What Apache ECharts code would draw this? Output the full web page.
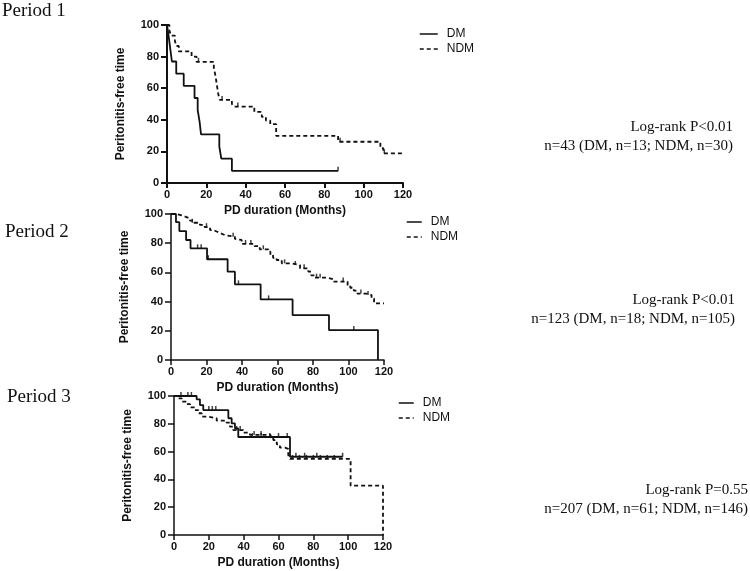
<!DOCTYPE html>
<html><head><meta charset="utf-8">
<script src="https://cdn.jsdelivr.net/npm/echarts@6/dist/echarts.min.js"></script>
<style>html,body{margin:0;padding:0;background:#fff}#c{width:750px;height:571px}</style>
</head><body><div id="c"></div>
<script>
// ---- data (months, % peritonitis-free) ----
const xTicks = [0, 20, 40, 60, 80, 100, 120];
const yTicks = [0, 20, 40, 60, 80, 100];
const groups = ['DM', 'NDM'];

const p1DM = [[0,100],[0.9,92.3],[1.7,84.6],[2.5,76.9],[4.7,69.2],[8.5,61.5],[14,53.8],[15.6,46.2],[16.6,38.5],[17.3,30.8],[26.6,23.1],[27.6,15.4],[33,7.7],[87,7.7]];
const p1NDM = [[0,100],[1.2,96.7],[2,93.3],[4,90],[4.7,86.7],[6,83.3],[12.5,80],[15,76.7],[23.8,73.3],[24.3,70],[24.8,66.7],[25.2,63.3],[25.6,60],[26,56.7],[26.8,52.6],[33,50],[34,48.4],[44.4,45],[48.2,41.9],[50.3,39.5],[52.5,37.2],[55.5,29.8],[87,26.1],[108.5,22],[110,18.8],[120,18.8]];
const p1DMCens = [[87,7.7]];
const p1NDMCens = [[16,76.7],[28,52.6],[36,48.4],[88,26.1],[110.5,18.8]];

const p2DM = [[0,100],[2.8,94.4],[4.7,88.3],[8.5,82.2],[11,76.5],[20.3,69],[31.9,60.5],[36,51.8],[50.5,41.5],[68.5,30.8],[89,20.5],[116.6,0]];
const p2NDM = [[0,100],[3,99],[6,98.2],[8,97],[10.7,95.4],[13,94],[16.3,92.5],[19,91],[22,89],[24,88],[25.7,86.8],[28,85.5],[30.4,84.5],[36,83],[37,82.2],[39.8,79.5],[47,78],[50,75.8],[54.8,74.2],[56,72],[57.5,70],[59.5,68.5],[62.4,66.2],[68,65],[72.7,62.8],[77.4,60.5],[79,58],[81,56.4],[87.7,55.3],[91.4,53.7],[99.5,51],[101,49.5],[103,47.5],[105,45.5],[110,44.5],[113,42.2],[114.4,38.8],[120,38.8]];
const p2DMCens = [[15,76.5],[17,76.5],[21,69],[38,51.8],[55,41.5],[103,20.5]];
const p2NDMCens = [[12,94],[20,91],[35,84.5],[42,79.5],[45,79.5],[52,75.8],[64,66.2],[70,65],[75,62.8],[82,56.4],[84,56.4],[97,53.7],[107,45.5],[111,44.5]];

const p3DM = [[0,100],[13,97.6],[14.9,93.5],[16.8,89.9],[31.2,84],[33.1,80.3],[35,76.7],[36.9,70.5],[66.6,56.3],[96.8,56.3]];
const p3NDM = [[0,100],[2.5,98.3],[4.4,95.9],[7.3,94.2],[9.2,91.8],[12,89.9],[14,87.6],[15.9,85.1],[19.7,84],[24.5,82.3],[30.2,80.8],[32.1,78],[34,75.5],[39.8,73.6],[43.6,72],[55.5,70],[57,68.3],[59,65.2],[60.8,62.8],[63.7,61.9],[65.6,57.6],[66.6,54.7],[101.4,35.5],[120,0]];
const p3DMCens = [[4,100],[8,100],[10,100],[20,89.9],[22,89.9],[24,89.9],[45,70.5],[50,70.5],[55,70.5],[60,70.5],[65,70.5],[70,56.3],[75,56.3],[82,56.3],[96.8,56.3]];
const p3NDMCens = [[36,75.5],[38,75.5],[46,72],[50,72],[68,54.7],[72,54.7],[76,54.7],[80,54.7],[84,54.7],[88,54.7],[92,54.7]];

const periods = ['Period 1', 'Period 2', 'Period 3'];
const logRank = ['Log-rank P<0.01', 'Log-rank P<0.01', 'Log-rank P=0.55'];
const nText = ['n=43 (DM, n=13; NDM, n=30)', 'n=123 (DM, n=18; NDM, n=105)', 'n=207 (DM, n=61; NDM, n=146)'];
const xTitle = 'PD duration (Months)';
const yTitle = 'Peritonitis-free time';

// ---- layout ----
const grids = [
  {left:167, top:25, width:236, height:158, lw:2},
  {left:171, top:214, width:213, height:146, lw:1.5},
  {left:174, top:396, width:209, height:139, lw:1.5}
];
const legendPos = [{left:419, top:28, w:18}, {left:406, top:216, w:15}, {left:398, top:397, w:15}];
const periodPos = [{x:2, y:13}, {x:5, y:234}, {x:7, y:399}];
const textPos = [{x:733, y:127}, {x:735, y:300}, {x:748, y:490}];

const sans = "Arial, 'Liberation Sans', sans-serif";
const serif = "'Times New Roman', 'Liberation Serif', serif";
const curves = [[p1DM, p1NDM], [p2DM, p2NDM], [p3DM, p3NDM]];
const cens = [[p1DMCens, p1NDMCens], [p2DMCens, p2NDMCens], [p3DMCens, p3NDMCens]];

const option = {
  backgroundColor: '#fff',
  animation: false,
  grid: grids.map(g => ({left:g.left, top:g.top, width:g.width, height:g.height, containLabel:false})),
  xAxis: grids.map((g, i) => ({
    gridIndex: i, type: 'value', min: xTicks[0], max: xTicks[xTicks.length-1], interval: 20,
    name: xTitle, nameLocation: 'middle', nameGap: 22,
    nameTextStyle: {fontFamily: sans, fontWeight: 'bold', fontSize: 12, color: '#111'},
    axisLine: {show: true, onZero: false, lineStyle: {color: '#111', width: g.lw}},
    axisTick: {show: true, length: 5, lineStyle: {color: '#111', width: g.lw}},
    axisLabel: {fontFamily: sans, fontWeight: 'bold', fontSize: 11, color: '#111', margin: 6},
    splitLine: {show: false}
  })),
  yAxis: grids.map((g, i) => ({
    gridIndex: i, type: 'value', min: yTicks[0], max: yTicks[yTicks.length-1], interval: 20,
    name: yTitle, nameLocation: 'middle', nameGap: 40, nameRotate: 90,
    nameTextStyle: {fontFamily: sans, fontWeight: 'bold', fontSize: 12, color: '#111'},
    axisLine: {show: true, onZero: false, lineStyle: {color: '#111', width: g.lw}},
    axisTick: {show: true, length: 6, lineStyle: {color: '#111', width: g.lw}},
    axisLabel: {fontFamily: sans, fontWeight: 'bold', fontSize: 11, color: '#111', margin: 8},
    splitLine: {show: false}
  })),
  legend: legendPos.map((l, i) => ({
    orient: 'vertical', left: l.left, top: l.top, itemWidth: l.w, itemHeight: 14, itemGap: 3, padding: 0,
    data: groups, selectedMode: false,
    itemStyle: {opacity: 0, borderWidth: 0},
    lineStyle: {width: 1.5},
    textStyle: {fontFamily: sans, fontSize: 12, color: '#111', padding: [0, 0, 0, 4]}
  })),
  series: [],
  graphic: []
};

curves.forEach((pair, i) => {
  pair.forEach((data, k) => {
    option.series.push({
      name: groups[k], type: 'line', step: 'end', xAxisIndex: i, yAxisIndex: i,
      data: data, showSymbol: false, symbol: 'none', clip: false,
      lineStyle: {color: '#111', width: 1.8, type: k === 0 ? 'solid' : [4, 3]},
      itemStyle: {color: '#111'}, z: 3
    });
    option.series.push({
      name: groups[k] + ' censored', type: 'scatter', xAxisIndex: i, yAxisIndex: i,
      data: cens[i][k], symbol: 'rect', symbolSize: [1.5, 4], symbolOffset: [0, -2],
      itemStyle: {color: '#111'}, silent: true, z: 4
    });
  });
  option.graphic.push({type: 'text', left: periodPos[i].x, top: periodPos[i].y - 11,
    style: {text: periods[i], font: '19px ' + serif, fill: '#111'}});
  option.graphic.push({type: 'text', x: textPos[i].x, y: textPos[i].y,
    style: {text: logRank[i], font: '15px ' + serif, fill: '#111', align: 'right', verticalAlign: 'middle'}});
  option.graphic.push({type: 'text', x: textPos[i].x, y: textPos[i].y + 19,
    style: {text: nText[i], font: '15px ' + serif, fill: '#111', align: 'right', verticalAlign: 'middle'}});
});

const chart = echarts.init(document.getElementById('c'), null, {renderer: 'canvas'});
chart.setOption(option);
</script></body></html>
